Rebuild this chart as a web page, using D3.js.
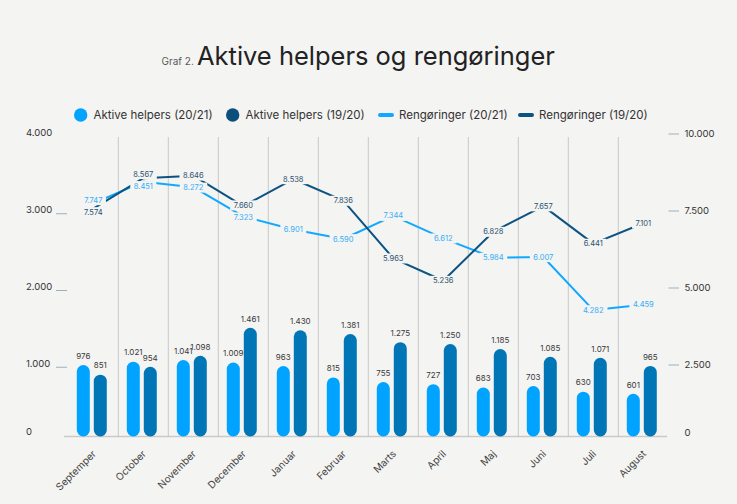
<!DOCTYPE html>
<html>
<head>
<meta charset="utf-8">
<script src="https://cdn.jsdelivr.net/npm/d3@7/dist/d3.min.js"></script>
<style>
  html, body { margin: 0; padding: 0; background: #f4f4f2; }
  svg { display: block; }
  text { font-family: Inter, "Open Sans", sans-serif; }
</style>
</head>
<body>
<svg id="chart" width="737" height="504"></svg>
<script>
// ---------- data ----------
const categories = ["Septemper","October","November","December","Januar","Februar","Marts","April","Maj","Juni","Juli","August"];
const helpers2021 = [976,1021,1041,1009,963,815,755,727,683,703,630,601];
const helpers1920 = [851,954,1098,1461,1430,1381,1275,1250,1185,1085,1071,965];
const reng2021 = [7747,8451,8272,7323,6901,6590,7344,6612,5984,6007,4282,4459];
const reng1920 = [7574,8567,8646,7660,8538,7836,5963,5236,6828,7657,6441,7101];
const leftTicks = [0,1000,2000,3000,4000];
const rightTicks = [0,2500,5000,7500,10000];
const legendLabels = ["Aktive helpers (20/21)","Aktive helpers (19/20)","Rengøringer (20/21)","Rengøringer (19/20)"];

// ---------- styles ----------
const BG = "#f4f4f2";
const C_BAR_LIGHT = "#00a3ff";
const C_BAR_DARK = "#0076b6";
const C_LINE_LIGHT = "#12a8ff";
const C_LINE_DARK = "#0c5383";
const C_LEG_DARK = "#0b4f7d";

const locale = d3.formatLocale({decimal: ",", thousands: ".", grouping: [3], currency: ["", ""]});
const fmt = locale.format(",d");

const svg = d3.select("#chart");
svg.append("rect").attr("width", 737).attr("height", 504).attr("fill", BG);

const baseY = 436.5;
const x0 = d3.scaleBand().domain(categories).range([68.3, 668.3]).padding(0);
const x1 = d3.scaleBand().domain(["a","b"]).range([-16.5, 13.5]).paddingInner(4/17).paddingOuter(0);
const yL = d3.scaleLinear().domain([0, 4000]).range([440, 133]);
const yR = d3.scaleLinear().domain([0, 10000]).range([442, 134]);
const cx = c => x0(c) + x0.bandwidth() / 2;

// ---------- title ----------
svg.append("text").attr("x", 161.5).attr("y", 65)
  .attr("font-size", 10).attr("fill", "#5a5a5a").text("Graf 2.");
const tMain = svg.append("text").attr("x", 197).attr("y", 65)
  .attr("font-size", 26).attr("fill", "#222").attr("font-weight", 400)
  .text("Aktive helpers og rengøringer");
{
  const w = tMain.node().getComputedTextLength();
  tMain.attr("font-size", 26 * 358 / w);
}

// ---------- legend ----------
const legX = [74, 226, 378, 518];
const leg = svg.append("g");
legendLabels.forEach((lab, i) => {
  const g = leg.append("g").attr("transform", `translate(${legX[i]},115)`);
  let tx;
  if (i < 2) {
    g.append("circle").attr("cx", 6.7).attr("cy", 0).attr("r", 6.7).attr("fill", i === 0 ? C_BAR_LIGHT : C_LEG_DARK);
    tx = 19.5;
  } else {
    g.append("line").attr("x1", 2).attr("x2", 14).attr("y1", 0).attr("y2", 0)
      .attr("stroke", i === 2 ? C_LINE_LIGHT : C_LINE_DARK).attr("stroke-width", 4).attr("stroke-linecap", "round");
    tx = 21;
  }
  g.append("text").attr("x", tx).attr("y", 0).attr("dy", "0.36em").attr("font-size", 11.5).attr("fill", "#333").text(lab);
});

// ---------- gridlines ----------
svg.append("g").selectAll("line").data(categories.slice(1)).join("line")
  .attr("x1", d => x0(d)).attr("x2", d => x0(d))
  .attr("y1", 137).attr("y2", baseY)
  .attr("stroke", "#c9c9c9").attr("stroke-width", 1);
svg.append("line").attr("x1", 64).attr("x2", 667).attr("y1", baseY).attr("y2", baseY)
  .attr("stroke", "#c9c9c9").attr("stroke-width", 1.3);

// ---------- axes ----------
const axL = svg.append("g");
axL.selectAll("text").data(leftTicks).join("text")
  .attr("x", 26).attr("y", d => d === 0 ? baseY - 5 : yL(d)).attr("dy", "0.35em")
  .attr("font-size", 9.5).attr("fill", "#333").text(d => fmt(d));
axL.selectAll("line").data(leftTicks.filter(d => d > 0 && d < 4000)).join("line")
  .attr("x1", 56).attr("x2", 67).attr("y1", d => yL(d) + 4).attr("y2", d => yL(d) + 4)
  .attr("stroke", "#9db1bc").attr("stroke-width", 1);

const axR = svg.append("g");
axR.selectAll("text").data(rightTicks).join("text")
  .attr("x", 684.5).attr("y", d => d === 0 ? baseY - 3.5 : yR(d)).attr("dy", "0.35em")
  .attr("font-size", 9.5).attr("fill", "#333").text(d => fmt(d));
axR.selectAll("line").data(rightTicks.filter(d => d > 0)).join("line")
  .attr("x1", 668.5).attr("x2", 679).attr("y1", d => yR(d)).attr("y2", d => yR(d))
  .attr("stroke", "#9db1bc").attr("stroke-width", 1);

// x labels
svg.append("g").selectAll("text").data(categories).join("text")
  .attr("transform", d => `translate(${cx(d) + 1},${452}) rotate(-45)`)
  .attr("text-anchor", "end").attr("dy", "0.35em")
  .attr("font-size", 10).attr("fill", "#444").text(d => d);

// ---------- bars ----------
const barSeries = [
  {key: "a", values: helpers2021, color: C_BAR_LIGHT},
  {key: "b", values: helpers1920, color: C_BAR_DARK}
];
const bw = x1.bandwidth();
barSeries.forEach(s => {
  const g = svg.append("g");
  g.selectAll("rect").data(s.values).join("rect")
    .attr("x", (d, i) => cx(categories[i]) + x1(s.key))
    .attr("y", d => yL(d))
    .attr("width", bw)
    .attr("height", d => baseY - yL(d))
    .attr("rx", bw / 2).attr("ry", bw / 2)
    .attr("fill", s.color);
  g.selectAll("text").data(s.values).join("text")
    .attr("x", (d, i) => cx(categories[i]) + x1(s.key) + bw / 2)
    .attr("y", d => yL(d) - 9).attr("dy", "0.35em")
    .attr("text-anchor", "middle").attr("font-size", 8).attr("fill", "#3a3a3a")
    .text(d => fmt(d));
});

// ---------- lines ----------
const lineSeries = [
  {values: reng2021, color: C_LINE_LIGHT, label: "#33aef7"},
  {values: reng1920, color: C_LINE_DARK, label: "#2b5170"}
];
const lineGen = d3.line().x((d, i) => cx(categories[i])).y(d => yR(d));
lineSeries.forEach(s => {
  svg.append("path").datum(s.values).attr("d", lineGen)
    .attr("fill", "none").attr("stroke", s.color).attr("stroke-width", 2).attr("stroke-linejoin", "round");
});

// label positions with simple collision avoidance between the two series
const minSep = 12;
const labelY = lineSeries.map(s => s.values.map(v => yR(v)));
categories.forEach((c, i) => {
  const a = labelY[0][i], b = labelY[1][i];
  if (Math.abs(a - b) < minSep) {
    const mid = (a + b) / 2;
    if (a >= b) { labelY[0][i] = mid + minSep / 2; labelY[1][i] = mid - minSep / 2; }
    else { labelY[0][i] = mid - minSep / 2; labelY[1][i] = mid + minSep / 2; }
  }
});

lineSeries.forEach((s, si) => {
  const g = svg.append("g");
  const texts = g.selectAll("text").data(s.values).join("text")
    .attr("x", (d, i) => cx(categories[i]))
    .attr("y", (d, i) => labelY[si][i]).attr("dy", "0.35em")
    .attr("text-anchor", "middle").attr("font-size", 7.5).attr("fill", s.label)
    .text(d => fmt(d));
  texts.each(function() {
    const b = this.getBBox();
    g.insert("rect", "text").attr("x", b.x - 3.5).attr("y", b.y - 0.5)
      .attr("width", b.width + 7).attr("height", b.height + 1).attr("fill", BG);
  });
});
</script>
</body>
</html>
